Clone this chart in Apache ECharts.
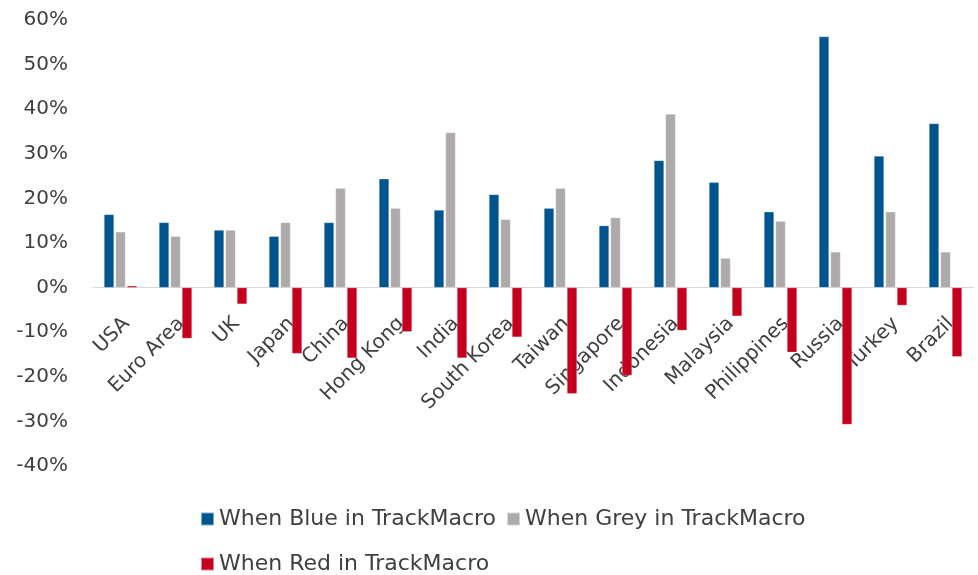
<!DOCTYPE html>
<html>
<head>
<meta charset="utf-8">
<script src="https://cdn.jsdelivr.net/npm/echarts@6/dist/echarts.min.js"></script>
<style>
  html, body { margin: 0; padding: 0; background: #fff; }
  #chart { width: 978px; height: 575px; }
</style>
</head>
<body>
<div id="chart"></div>
<script>
// countries along the x axis
const countries = ['USA', 'Euro Area', 'UK', 'Japan', 'China', 'Hong Kong', 'India', 'South Korea',
  'Taiwan', 'Singapore', 'Indonesia', 'Malaysia', 'Philippines', 'Russia', 'Turkey', 'Brazil'];

// values in percent
const blueValues = [16.4, 14.6, 12.9, 11.5, 14.6, 24.4, 17.4, 20.9, 17.8, 13.9, 28.5, 23.6, 17.0, 56.3, 29.5, 36.8];
const greyValues = [12.5, 11.5, 12.9, 14.6, 22.3, 17.8, 34.8, 15.3, 22.3, 15.7, 38.9, 6.6, 14.9, 8.0, 17.0, 8.0];
const redValues = [0.4, -11.4, -3.7, -14.8, -15.8, -9.9, -15.8, -11.1, -23.8, -19.7, -9.6, -6.4, -14.5, -30.7, -4.0, -15.5];

const seriesNames = ['When Blue in TrackMacro', 'When Grey in TrackMacro', 'When Red in TrackMacro'];
const seriesColors = ['#00558F', '#AEAAAA', '#C5001F'];

const yMin = -40;
const yMax = 60;

const fontFamily = '"DejaVu Sans", "Open Sans", sans-serif';
const textColor = '#404040';

const gridTop = 20;
const gridHeight = 446;
const gridWidth = 880;
// move the category axis (line + labels) up to the zero line
const zeroOffset = -gridHeight * (0 - yMin) / (yMax - yMin);

const chart = echarts.init(document.getElementById('chart'));

const makeBar = (name, data, color) => ({
  name: name,
  type: 'bar',
  data: data,
  barWidth: 10,
  barGap: '15%',
  itemStyle: { color: color, borderColor: 'rgba(255,255,255,0.5)', borderWidth: 0.5 },
  emphasis: { disabled: true }
});

const legendText = { fontFamily: fontFamily, fontSize: 22, color: textColor };

chart.setOption({
  animation: false,
  grid: [
    { left: 93, width: gridWidth, top: gridTop, height: gridHeight, containLabel: false },
    // same grid nudged right a little, only carries the rotated country labels
    { left: 99, width: gridWidth, top: gridTop, height: gridHeight, containLabel: false }
  ],
  xAxis: [
    {
      type: 'category',
      data: countries,
      offset: zeroOffset,
      axisLine: { onZero: false, lineStyle: { color: '#D9D9D9', width: 1 } },
      axisTick: { show: false },
      axisLabel: { show: false }
    },
    {
      type: 'category',
      gridIndex: 1,
      data: countries,
      offset: zeroOffset,
      axisLine: { show: false },
      axisTick: { show: false },
      axisLabel: {
        interval: 0,
        rotate: 45,
        margin: 33,
        fontFamily: fontFamily,
        fontSize: 20,
        color: textColor
      }
    }
  ],
  yAxis: [
    {
      type: 'value',
      min: yMin,
      max: yMax,
      interval: 10,
      axisLine: { show: false },
      axisTick: { show: false },
      splitLine: { show: false },
      axisLabel: {
        formatter: '{value}%',
        margin: 25,
        fontFamily: fontFamily,
        fontSize: 20,
        color: textColor
      }
    },
    {
      type: 'value',
      gridIndex: 1,
      min: yMin,
      max: yMax,
      show: false
    }
  ],
  legend: [
    {
      data: [seriesNames[0], seriesNames[1]],
      left: 195,
      top: 503,
      icon: 'rect',
      itemWidth: 13,
      itemHeight: 13,
      itemGap: 10,
      textStyle: legendText
    },
    {
      data: [seriesNames[2]],
      left: 195,
      top: 548,
      icon: 'rect',
      itemWidth: 13,
      itemHeight: 13,
      textStyle: legendText
    }
  ],
  series: [
    makeBar(seriesNames[0], blueValues, seriesColors[0]),
    makeBar(seriesNames[1], greyValues, seriesColors[1]),
    makeBar(seriesNames[2], redValues, seriesColors[2])
  ]
});
</script>
</body>
</html>
